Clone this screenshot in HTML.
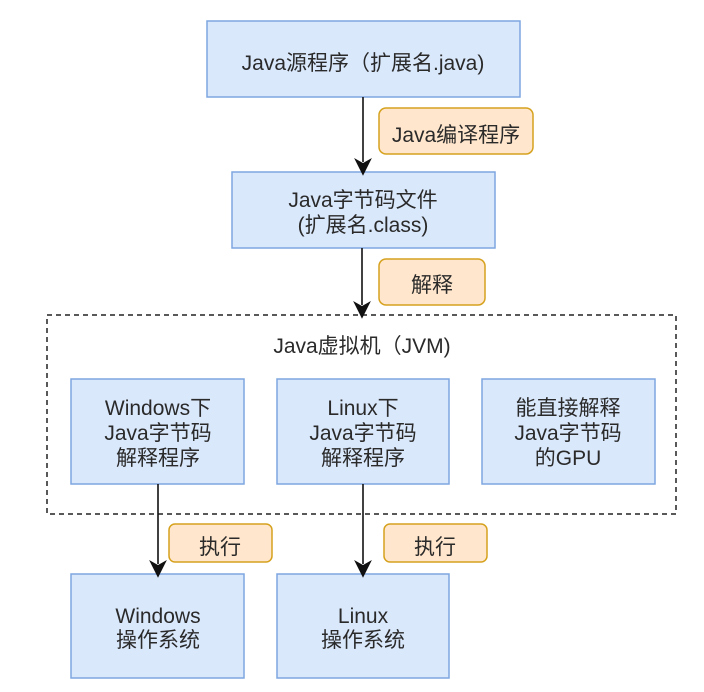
<!DOCTYPE html>
<html><head><meta charset="utf-8"><style>
html,body{margin:0;padding:0;background:#fff;width:704px;height:692px;overflow:hidden}
text{font-family:"Liberation Sans","Noto Sans CJK SC",sans-serif;font-size:21px;fill:#2a2a2a;text-anchor:middle}
</style></head><body>
<svg width="704" height="692" viewBox="0 0 704 692" xmlns="http://www.w3.org/2000/svg">
<g fill="#dae8fc" stroke="#7ea6e0" stroke-width="1.5">
<rect x="207" y="21" width="313" height="76"/>
<rect x="232" y="172" width="263" height="76"/>
<rect x="71" y="379" width="173" height="105"/>
<rect x="277" y="379" width="172" height="105"/>
<rect x="482" y="379" width="173" height="105"/>
<rect x="71" y="574" width="173" height="104"/>
<rect x="277" y="574" width="172" height="104"/>
</g>
<rect x="47" y="315" width="629" height="199" fill="none" stroke="#222" stroke-width="1.5" stroke-dasharray="5,4"/>
<g fill="#ffe6cc" stroke="#d6a21e" stroke-width="1.5">
<rect x="379" y="108" width="154" height="46" rx="7"/>
<rect x="379" y="259" width="106" height="46" rx="7"/>
<rect x="169" y="524" width="103" height="38" rx="6"/>
<rect x="384" y="524" width="103" height="38" rx="6"/>
</g>
<g stroke="#111" stroke-width="1.6" fill="#111">
<line x1="363" y1="97" x2="363" y2="162"/><path d="M356,160 L363,174 L370,160 L363,164Z"/>
<line x1="362" y1="248" x2="362" y2="305"/><path d="M355,303 L362,317 L369,303 L362,307Z"/>
<line x1="158" y1="484" x2="158" y2="564"/><path d="M151,562 L158,576 L165,562 L158,566Z"/>
<line x1="363" y1="484" x2="363" y2="564"/><path d="M356,562 L363,576 L370,562 L363,566Z"/>
</g>
<text x="363" y="70">Java源程序（扩展名.java)</text>
<text x="456" y="142">Java编译程序</text>
<text x="363" y="207">Java字节码文件</text>
<text x="363" y="232">(扩展名.class)</text>
<text x="432" y="292">解释</text>
<text x="362" y="353">Java虚拟机（JVM)</text>
<text x="158" y="415">Windows下</text><text x="158" y="440">Java字节码</text><text x="158" y="465">解释程序</text>
<text x="363" y="415">Linux下</text><text x="363" y="440">Java字节码</text><text x="363" y="465">解释程序</text>
<text x="568" y="415">能直接解释</text><text x="568" y="440">Java字节码</text><text x="568" y="465">的GPU</text>
<text x="220" y="554">执行</text>
<text x="435" y="554">执行</text>
<text x="158" y="623">Windows</text><text x="158" y="647">操作系统</text>
<text x="363" y="623">Linux</text><text x="363" y="647">操作系统</text>
</svg>
</body></html>
